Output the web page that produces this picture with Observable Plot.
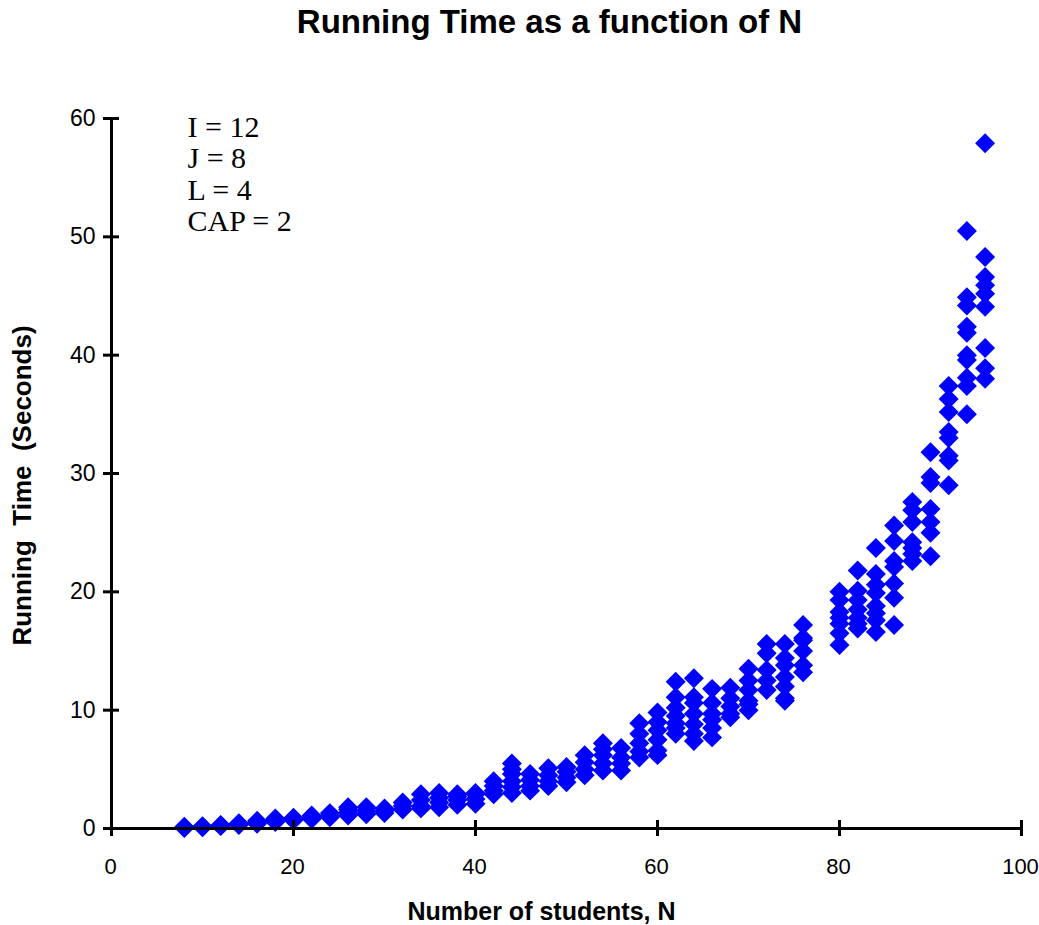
<!DOCTYPE html>
<html>
<head>
<meta charset="utf-8">
<script src="https://cdn.jsdelivr.net/npm/d3@7"></script>
<script src="https://cdn.jsdelivr.net/npm/@observablehq/plot@0.6"></script>
<style>
  html, body { margin: 0; padding: 0; background: #fff; }
  #chart svg { display: block; }
</style>
</head>
<body>
<div id="chart"></div>
<script>
// Number of students N, and the measured running times (seconds) at each N
const nValues = [8, 10, 12, 14, 16, 18, 20, 22, 24, 26, 28, 30, 32, 34, 36, 38, 40,
  42, 44, 46, 48, 50, 52, 54, 56, 58, 60, 62, 64, 66, 68, 70, 72, 74, 76,
  80, 82, 84, 86, 88, 90, 92, 94, 96];
const runTimes = [
  [0.05, 0.1, 0.15],
  [0.1, 0.15, 0.2],
  [0.2, 0.25, 0.3],
  [0.3, 0.4, 0.45],
  [0.4, 0.5, 0.65],
  [0.55, 0.7, 0.85],
  [0.7, 0.85, 0.9],
  [0.8, 0.95, 1.1],
  [0.95, 1.1, 1.3],
  [1.1, 1.35, 1.6, 1.8],
  [1.2, 1.5, 1.8],
  [1.3, 1.5, 1.7],
  [1.6, 1.9, 2.2],
  [1.7, 1.9, 2.4, 2.9],
  [1.8, 2.2, 2.6, 3.0],
  [2.0, 2.4, 2.7, 2.9],
  [2.1, 2.5, 2.9, 3.0],
  [2.9, 3.2, 3.6, 4.0],
  [3.0, 3.5, 4.0, 4.6, 5.0, 5.5],
  [3.2, 3.6, 4.1, 4.6],
  [3.6, 4.0, 4.5, 5.1],
  [3.9, 4.3, 4.8, 5.2],
  [4.5, 5.0, 5.6, 6.2],
  [4.9, 5.5, 6.2, 6.7, 7.2],
  [4.9, 5.5, 6.0, 6.8],
  [6.0, 6.5, 7.2, 8.0, 8.9],
  [6.2, 6.6, 7.5, 8.3, 9.0, 9.8],
  [8.0, 8.5, 8.9, 9.5, 10.2, 11.1, 12.4],
  [7.4, 8.0, 8.8, 9.7, 10.6, 11.1, 12.7],
  [7.7, 8.5, 9.2, 9.7, 10.6, 11.8],
  [9.4, 9.7, 10.3, 11.0, 11.9],
  [10.0, 10.5, 10.8, 11.7, 12.5, 13.5],
  [11.7, 12.5, 13.4, 14.8, 15.6],
  [10.8, 11.0, 12.0, 12.8, 13.8, 14.4, 15.6],
  [13.2, 13.8, 15.0, 15.9, 16.1, 17.2],
  [15.5, 16.5, 17.3, 17.8, 18.3, 19.3, 20.0],
  [16.9, 17.3, 17.8, 18.5, 19.3, 20.1, 21.8],
  [16.6, 17.6, 18.2, 18.8, 19.9, 20.6, 21.5, 23.7],
  [17.2, 19.5, 20.7, 22.1, 22.6, 24.3, 25.6],
  [22.6, 23.2, 23.7, 24.2, 25.9, 26.9, 27.6],
  [23.0, 25.0, 25.9, 27.0, 29.2, 29.7, 31.8],
  [29.0, 31.1, 31.5, 33.0, 33.5, 35.2, 36.3, 37.4],
  [35.0, 37.4, 38.1, 39.6, 40.0, 41.9, 42.4, 44.2, 44.9, 50.5],
  [38.0, 38.9, 40.6, 44.1, 45.2, 45.9, 46.6, 48.3, 57.9]
];
const xTicks = [0, 20, 40, 60, 80, 100];
const yTicks = [0, 10, 20, 30, 40, 50, 60];
const titleText = "Running Time as a function of N";
const xLabel = "Number of students, N";
const yLabel = "Running\u00a0\u00a0Time\u00a0\u00a0(Seconds)";
const paramLines = ["I = 12", "J = 8", "L = 4", "CAP = 2"];

const points = nValues.flatMap((n, i) => runTimes[i].map(t => ({n, t})));

const sans = "'Liberation Sans', Arial, sans-serif";
const narrow = "'Liberation Sans Narrow', 'Arial Narrow', 'Liberation Sans', sans-serif";
const serif = "'Liberation Serif', 'Times New Roman', serif";

const chart = Plot.plot({
  width: 1039,
  height: 925,
  marginLeft: 111,
  marginRight: 18,
  marginTop: 118,
  marginBottom: 97,
  style: {fontFamily: sans, fontSize: "20px", background: "#fff", color: "#000"},
  x: {domain: [0, 100], ticks: xTicks},
  y: {domain: [0, 60], ticks: yTicks},
  marks: [
    Plot.axisX(xTicks, {tickSize: 0, tickPadding: 30, fontSize: 22, dx: -1, fontFamily: narrow, label: null}),
    Plot.axisY(yTicks, {tickSize: 0, tickPadding: 16, fontSize: 23, fontFamily: narrow, label: null}),
    Plot.dot(points, {x: "n", y: "t", symbol: "diamond2", r: 9, fill: "#0000ff", stroke: "none"}),
    // axis lines
    Plot.ruleX([0], {y1: 0, y2: 60, stroke: "#000", strokeWidth: 3}),
    Plot.ruleY([0], {x1: 0, x2: 100, stroke: "#000", strokeWidth: 3}),
    // crossing tick marks
    Plot.ruleY(yTicks, {y: d => d, x1: 0, x2: 0, insetLeft: -8, insetRight: -8, stroke: "#000", strokeWidth: 3}),
    Plot.ruleX(xTicks, {x: d => d, y1: 0, y2: 0, insetTop: -8, insetBottom: -8, stroke: "#000", strokeWidth: 3}),
    // parameters annotation
    Plot.text([paramLines.join("\n")], {frameAnchor: "top-left", dx: 76, dy: -4, lineHeight: 1.05,
      fontSize: 30, fontFamily: serif, fill: "#000"}),
    // title
    Plot.text([titleText], {frameAnchor: "top", dx: -17, dy: -96, fontSize: 33, fontWeight: "bold", fill: "#000", lineAnchor: "middle"}),
    // x label
    Plot.text([xLabel], {frameAnchor: "bottom", dx: -25, dy: 83, fontSize: 25, fontWeight: "bold", fill: "#000", lineAnchor: "middle"}),
    // y label
    Plot.text([yLabel], {frameAnchor: "left", dx: -89, dy: 12, rotate: -90, textAnchor: "middle", fontSize: 26, fontWeight: "bold", fill: "#000", lineAnchor: "middle"})
  ]
});
document.getElementById("chart").appendChild(chart);
</script>
</body>
</html>
